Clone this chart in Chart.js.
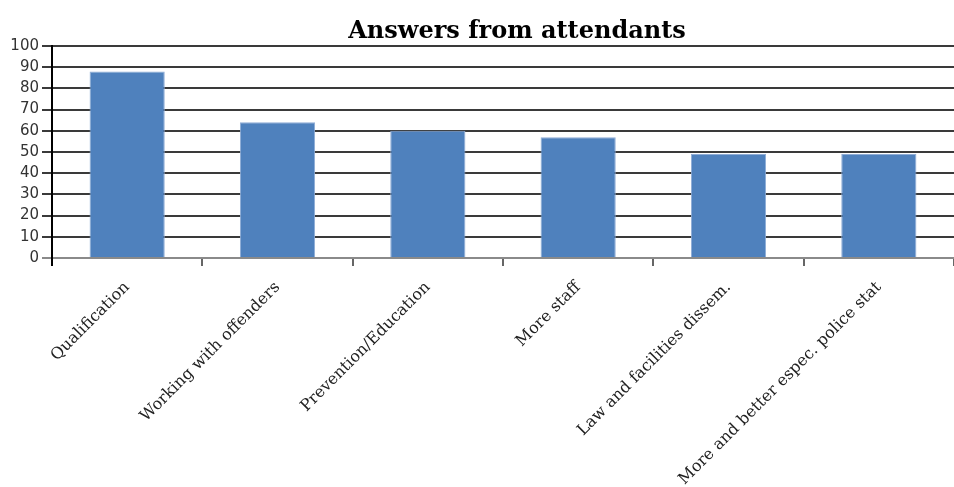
<!DOCTYPE html>
<html>
<head>
<meta charset="utf-8">
<script src="https://cdn.jsdelivr.net/npm/chart.js@4/dist/chart.umd.min.js"></script>
<style>
html,body{margin:0;padding:0;background:#fff;}
#wrap{width:954px;height:487px;position:relative;}
</style>
</head>
<body>
<div id="wrap"><canvas id="c"></canvas></div>
<script>
const titleText = "Answers from attendants";
const categories = ["Qualification", "Working with offenders", "Prevention/Education", "More staff", "Law and facilities dissem.", "More and better espec. police stat"];
const values = [88, 64, 60, 57, 49, 49];
const yMin = 0, yMax = 100, yStep = 10;

const titlePlugin = {
  id: 'customTitle',
  afterDraw(chart) {
    const ctx = chart.ctx;
    ctx.save();
    ctx.font = 'bold 24px "DejaVu Serif"';
    ctx.fillStyle = '#000';
    ctx.textAlign = 'center';
    ctx.textBaseline = 'alphabetic';
    ctx.fillText(titleText, 517, 38);
    ctx.restore();
  }
};

new Chart(document.getElementById('c'), {
  type: 'bar',
  data: {
    labels: categories,
    datasets: [{
      data: values,
      backgroundColor: '#4f81bd',
      borderColor: '#8eacd6',
      borderWidth: 1,
      barPercentage: 0.5,
      categoryPercentage: 1
    }]
  },
  options: {
    responsive: true,
    maintainAspectRatio: false,
    animation: false,
    layout: { padding: { top: 46, left: 0, right: 0, bottom: 0 } },
    plugins: { legend: { display: false }, tooltip: { enabled: false }, title: { display: false } },
    scales: {
      x: {
        grid: {
          drawOnChartArea: false,
          drawTicks: true,
          tickLength: 8,
          lineWidth: 2,
          color: (c) => c.index === 0 ? '#000' : (c.index >= categories.length ? 'rgba(0,0,0,0)' : '#666')
        },
        border: { color: '#8a8a8a', width: 2 },
        ticks: {
          autoSkip: false,
          maxRotation: 45,
          minRotation: 45,
          padding: 12,
          color: '#222',
          font: { family: '"DejaVu Serif"', size: 16 }
        },
        afterFit(scale) { scale.height = 229; }
      },
      y: {
        min: yMin,
        max: yMax,
        ticks: {
          stepSize: yStep,
          padding: 3,
          color: '#333',
          font: { family: '"DejaVu Sans"', size: 15 }
        },
        grid: {
          lineWidth: 2,
          tickLength: 10,
          color: (c) => c.tick && c.tick.value === 0 ? '#8a8a8a' : '#3a3a3a'
        },
        border: { color: '#000', width: 2 },
        afterFit(scale) { scale.width = 52; }
      }
    }
  },
  plugins: [titlePlugin]
});
</script>
</body>
</html>
